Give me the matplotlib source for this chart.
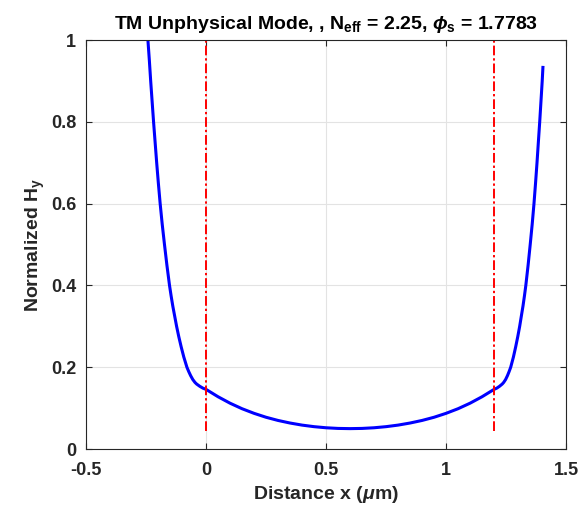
import numpy as np
import matplotlib
matplotlib.use('Agg')
import matplotlib.pyplot as plt

plt.rcParams['font.family'] = ['Liberation Sans', 'DejaVu Sans']
plt.rcParams['font.weight'] = 'bold'
plt.rcParams['mathtext.fontset'] = 'custom'
plt.rcParams['mathtext.rm'] = 'Liberation Sans:bold'
plt.rcParams['mathtext.it'] = 'Liberation Sans:italic:bold'
plt.rcParams['mathtext.bf'] = 'Liberation Sans:bold'

# ── datos ───────────────────────────────────────────────────────────────────
# región izquierda (x < 0)
x_izq = [-0.242, -0.236, -0.2305, -0.2245, -0.2185, -0.212, -0.2055, -0.1985,
         -0.191, -0.1825, -0.173, -0.163, -0.152, -0.1455, -0.1385, -0.1305,
         -0.1225, -0.1135, -0.1035, -0.0925, -0.0795, -0.072, -0.064, -0.055,
         -0.046, -0.039, -0.026, -0.013, 0.0]
h_izq = [1.000, 0.950, 0.900, 0.850, 0.800, 0.750, 0.700, 0.650,
         0.600, 0.550, 0.500, 0.450, 0.400, 0.375, 0.350, 0.325,
         0.300, 0.275, 0.250, 0.225, 0.200, 0.1895, 0.1795, 0.170,
         0.163, 0.159, 0.1535, 0.149, 0.146]

# núcleo (0 <= x <= 1.2)
x_nuc = [0.0, 0.05, 0.10, 0.15, 0.20, 0.25, 0.30, 0.35, 0.40, 0.45, 0.50,
         0.55, 0.60, 0.65, 0.70, 0.75, 0.80, 0.85, 0.90, 0.95, 1.00, 1.05,
         1.10, 1.15, 1.20]
h_nuc = [0.146, 0.128, 0.1122, 0.0987, 0.0874, 0.0778, 0.070, 0.0637,
         0.0586, 0.0548, 0.0521, 0.0505, 0.050, 0.0505, 0.0521, 0.0548,
         0.0586, 0.0637, 0.070, 0.0778, 0.0874, 0.0987, 0.1122, 0.128, 0.146]

# región derecha (x > 1.2)
x_der = [1.200, 1.2113, 1.2226, 1.2339, 1.240, 1.2479, 1.2557, 1.2626,
         1.2692, 1.2805, 1.290, 1.2987, 1.3066, 1.3135, 1.3205, 1.3266,
         1.3322, 1.3418, 1.3505, 1.3588, 1.3662, 1.3727, 1.3788, 1.3844,
         1.3901, 1.3953, 1.4005, 1.4038]
h_der = [0.146, 0.149, 0.1535, 0.159, 0.163, 0.170, 0.1795, 0.1895,
         0.200, 0.225, 0.250, 0.275, 0.300, 0.325, 0.350, 0.375,
         0.400, 0.450, 0.500, 0.550, 0.600, 0.650, 0.700, 0.750,
         0.800, 0.850, 0.900, 0.937]

interfaces = [0.0, 1.2]
N_EFF = 2.25
PHI_S = 1.7783

x_todo = x_izq + x_nuc[1:] + x_der[1:]
h_todo = h_izq + h_nuc[1:] + h_der[1:]

fig = plt.figure(figsize=(5.83, 5.08), dpi=100)
ax = fig.add_axes([0.1475, 0.116, 0.8235, 0.805])

ax.plot(x_todo, h_todo, color='#0000ff', lw=2.2, solid_capstyle='butt',
        solid_joinstyle='round')
for xi in interfaces:
    ax.plot([xi, xi], [0.045, 1.0], color='#ff0000', lw=1.4,
            dashes=(5, 1.5, 1.2, 1.5))

ax.set_xlim(-0.5, 1.5)
ax.set_ylim(0, 1)
ax.set_xticks([-0.5, 0, 0.5, 1, 1.5])
ax.set_xticklabels(['-0.5', '0', '0.5', '1', '1.5'])
ax.set_yticks([0, 0.2, 0.4, 0.6, 0.8, 1])
ax.set_yticklabels(['0', '0.2', '0.4', '0.6', '0.8', '1'])
ax.grid(True, color='#e3e3e3', lw=0.8)
ax.set_axisbelow(True)
ax.tick_params(direction='in', top=True, right=True, length=4, width=0.8,
               colors='#262626', labelsize=13)
ax.tick_params(axis='x', pad=9)
ax.tick_params(axis='y', pad=7)
for sp in ax.spines.values():
    sp.set_color('#262626')
    sp.set_linewidth(0.8)

ax.set_xlabel(r'Distance x ($\mu$m)', fontsize=14, fontweight='bold',
              color='#262626', labelpad=4)
ax.set_ylabel(r'Normalized H$_\mathrm{y}$', fontsize=14, fontweight='bold',
              color='#262626', labelpad=3)
ax.set_title(r'TM Unphysical Mode, , N$_\mathrm{eff}$ = %.2f, $\phi_\mathrm{s}$ = %.4f' % (N_EFF, PHI_S),
             fontsize=14, fontweight='bold', color='black', pad=8)

fig.savefig('out.png', dpi=100)
